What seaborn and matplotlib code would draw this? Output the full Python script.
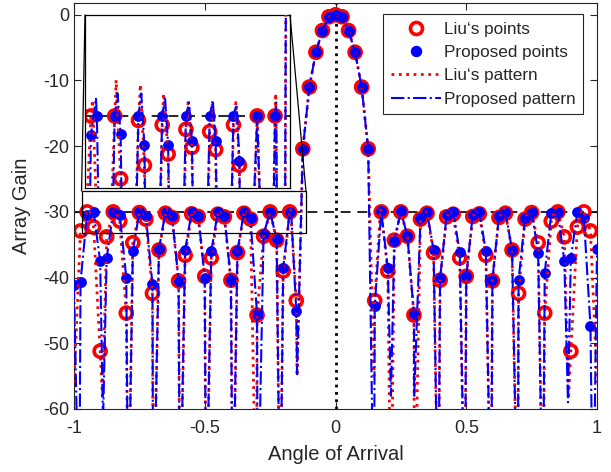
import numpy as np
import matplotlib
matplotlib.use('Agg')
import matplotlib.pyplot as plt
import seaborn as sns
from matplotlib.lines import Line2D
from matplotlib.patches import Rectangle, ConnectionPatch

# sample angles (sin of angle), 81 points
angles = [-1.0, -0.975, -0.95, -0.925, -0.9, -0.875, -0.85, -0.825, -0.8, -0.775,
          -0.75, -0.725, -0.7, -0.675, -0.65, -0.625, -0.6, -0.575, -0.55, -0.525,
          -0.5, -0.475, -0.45, -0.425, -0.4, -0.375, -0.35, -0.325, -0.3, -0.275,
          -0.25, -0.225, -0.2, -0.175, -0.15, -0.125, -0.1, -0.075, -0.05, -0.025,
          0.0, 0.025, 0.05, 0.075, 0.1, 0.125, 0.15, 0.175, 0.2, 0.225,
          0.25, 0.275, 0.3, 0.325, 0.35, 0.375, 0.4, 0.425, 0.45, 0.475,
          0.5, 0.525, 0.55, 0.575, 0.6, 0.625, 0.65, 0.675, 0.7, 0.725,
          0.75, 0.775, 0.8, 0.825, 0.85, 0.875, 0.9, 0.925, 0.95, 0.975, 1.0]

liu_db = [np.nan, -32.9, -30.0, -32.3, -51.2, -33.8, -30.0, -31.4, -45.4, -34.7,
          -30.1, -31.1, -42.4, -35.8, -30.2, -30.85, -40.5, -36.6, -30.3, -30.7,
          -39.8, -37.0, -30.35, -30.75, -40.4, -36.2, -30.2, -31.1, -45.7, -33.7,
          -30.0, -34.3, -39.0, -30.0, -43.5, -20.4, -11.0, -5.7, -2.4, -0.3,
          0.0, -0.3, -2.4, -5.7, -11.0, -20.4, -43.5, -30.0, -39.0, -34.3,
          -30.0, -33.7, -45.7, -31.1, -30.2, -36.2, -40.4, -30.75, -30.35, -37.0,
          -39.8, -30.7, -30.3, -36.6, -40.5, -30.85, -30.2, -35.8, -42.4, -31.1,
          -30.1, -34.7, -45.4, -31.4, -30.0, -33.8, -51.2, -32.3, -30.0, -32.9, np.nan]

prop_db = [-41.2, -40.6, -30.43, -30.0, -37.5, -37.0, -30.0, -30.4, -40.0, -36.0,
           -30.0, -30.65, -41.0, -35.6, -30.0, -30.65, -40.5, -35.8, -30.0, -30.55,
           -40.0, -36.0, -30.0, -30.55, -40.4, -36.0, -30.0, -31.0, -45.6, -33.4,
           -30.0, -34.2, -38.5, -30.0, -45.1, -20.4, -11.0, -5.7, -2.4, -0.3,
           0.0, -0.3, -2.4, -5.7, -11.0, -20.4, -44.4, -29.9, -38.6, -34.4,
           -29.9, -33.7, -45.6, -31.0, -30.0, -35.8, -40.1, -30.5, -30.0, -36.1,
           -39.8, -30.4, -30.0, -36.0, -40.3, -30.7, -30.0, -35.8, -40.4, -30.9,
           -30.0, -36.2, -39.3, -30.2, -30.0, -37.5, -37.0, -30.0, -31.0, -47.4, -35.6]

# nulls and sidelobe tops of the patterns, between the samples
liu_null_x = [-1.0, -0.891, -0.793, -0.697, -0.595, -0.495, -0.393, -0.302, -0.212, -0.147,
              0.147, 0.212, 0.302, 0.393, 0.495, 0.595, 0.697, 0.793, 0.891, 1.0]
liu_null_db = [-56, -58.5, -80, -80, -80, -80, -80, -80, -80, -55,
               -55, -80, -80, -80, -80, -80, -80, -80, -58.5, -56]
prop_null_x = [-0.98, -0.889, -0.793, -0.697, -0.595, -0.495, -0.393, -0.298, -0.212, -0.147,
               0.147, 0.212, 0.301, 0.393, 0.495, 0.595, 0.697, 0.793, 0.889, 0.985]
prop_null_db = [-80, -62, -80, -80, -80, -80, -80, -80, -80, -54.7,
                -80, -58, -58, -80, -80, -80, -80, -80, -59, -80]

liu_peak_x = [-0.943, -0.844, -0.742, -0.644, -0.541, -0.44, -0.34, -0.172,
              0.172, 0.34, 0.44, 0.541, 0.644, 0.742, 0.844, 0.943]
liu_peak_db = [-29.65, -29.2, -29.3, -29.5, -29.7, -29.75, -29.7, -29.5,
               -29.5, -29.7, -29.75, -29.7, -29.5, -29.3, -29.2, -29.65]
prop_peak_x = [-0.929, -0.838, -0.738, -0.638, -0.537, -0.437, -0.337, -0.17,
               0.34, 0.44, 0.54, 0.64, 0.74, 0.84, 0.935]
prop_peak_db = [-29.6, -29.5, -29.5, -29.6, -29.7, -29.65, -29.75, -29.7,
                -29.7, -29.7, -29.7, -29.7, -29.7, -29.7, -29.7]


def pattern(xs, ys, nx, ny, px, py):
    x = np.concatenate([xs, nx, px])
    y = np.concatenate([ys, ny, py])
    keep = ~np.isnan(y)
    order = np.argsort(x[keep], kind='stable')
    return x[keep][order], y[keep][order]


liu_px, liu_py = pattern(angles, liu_db, liu_null_x, liu_null_db, liu_peak_x, liu_peak_db)
prop_px, prop_py = pattern(angles, prop_db, prop_null_x, prop_null_db, prop_peak_x, prop_peak_db)

sns.set_theme(style="ticks")
plt.rcParams['font.family'] = ['Liberation Sans', 'DejaVu Sans']
plt.rcParams['axes.unicode_minus'] = False
plt.rcParams['xtick.direction'] = 'in'
plt.rcParams['ytick.direction'] = 'in'

RED = '#ff0000'
BLUE = '#0000ff'


def draw(ax):
    ax.axhline(-30, color='black', ls=(0, (6, 4)), lw=1.2, zorder=1)
    ax.axvline(0, color='black', ls=':', lw=2, zorder=1)
    sns.scatterplot(x=angles, y=liu_db, ax=ax, marker='o', s=75, facecolor='none',
                    edgecolor=RED, linewidth=2.6, zorder=2, legend=False)
    sns.scatterplot(x=angles, y=prop_db, ax=ax, marker='o', s=52, color=BLUE,
                    edgecolor=BLUE, linewidth=0.5, zorder=3, legend=False)
    sns.lineplot(x=liu_px, y=liu_py, ax=ax, sort=False, estimator=None, color=RED,
                 linestyle=':', linewidth=2.0, zorder=4)
    sns.lineplot(x=prop_px, y=prop_py, ax=ax, sort=False, estimator=None, color=BLUE,
                 linestyle='-.', linewidth=1.5, zorder=5)


fig = plt.figure(figsize=(6.11, 4.72), dpi=100)
ax = fig.add_axes([0.1211, 0.1335, 0.856, 0.8602])
draw(ax)
ax.set_xlim(-1, 1)
ax.set_ylim(-60, 1.8)
ax.set_xticks([-1, -0.5, 0, 0.5, 1])
ax.set_xticklabels(['-1', '-0.5', '0', '0.5', '1'])
ax.set_yticks([-60, -50, -40, -30, -20, -10, 0])
ax.tick_params(labelsize=13, length=5, width=0.8, top=True, right=True, colors='#262626')
ax.tick_params(axis='x', pad=8)
for s in ax.spines.values():
    s.set_color('#262626')
    s.set_linewidth(0.8)
ax.set_xlabel('Angle of Arrival', fontsize=14.5, color='#262626', labelpad=6)
ax.set_ylabel('Array Gain', fontsize=14.5, color='#262626', labelpad=9)

# zoom box and inset
ax.add_patch(Rectangle((-0.971, -33.2), 0.858, 6.4, fill=False, edgecolor='black', lw=0.9, zorder=6))
axins = fig.add_axes([85 / 611, 1 - 187.7 / 472, 205 / 611, 172.7 / 472])
draw(axins)
axins.set_xlim(-0.975, -0.112)
axins.set_ylim(-31.6, -27.75)
axins.set_xticks([])
axins.set_yticks([])
axins.set_xlabel('')
axins.set_ylabel('')
axins.set_facecolor('white')
for s in axins.spines.values():
    s.set_color('black')
    s.set_linewidth(0.9)
for xa, xb in [(0, -0.971), (1, -0.113)]:
    con = ConnectionPatch(xyA=(xa, 1), coordsA=axins.transAxes, xyB=(xb, -26.8),
                          coordsB=ax.transData, color='black', lw=0.9)
    fig.add_artist(con)

handles = [
    Line2D([], [], ls='none', marker='o', ms=8.7, mfc='none', mec=RED, mew=2.6),
    Line2D([], [], ls='none', marker='o', ms=7.2, mfc=BLUE, mec=BLUE),
    Line2D([], [], color=RED, ls=':', lw=2.0),
    Line2D([], [], color=BLUE, ls='-.', lw=1.5),
]
labels = ['Liu\u2018s points', 'Proposed points', 'Liu\u2018s pattern', 'Proposed pattern']
leg = ax.legend(handles, labels, loc='upper right', bbox_to_anchor=(0.974, 0.972),
                fontsize=12.3, frameon=True, fancybox=False, framealpha=1,
                edgecolor='#262626', handlelength=2.9, handletextpad=0.2,
                labelspacing=0.48, borderpad=0.45, borderaxespad=0)
leg.get_frame().set_linewidth(0.8)

fig.savefig('out.png', dpi=100)
